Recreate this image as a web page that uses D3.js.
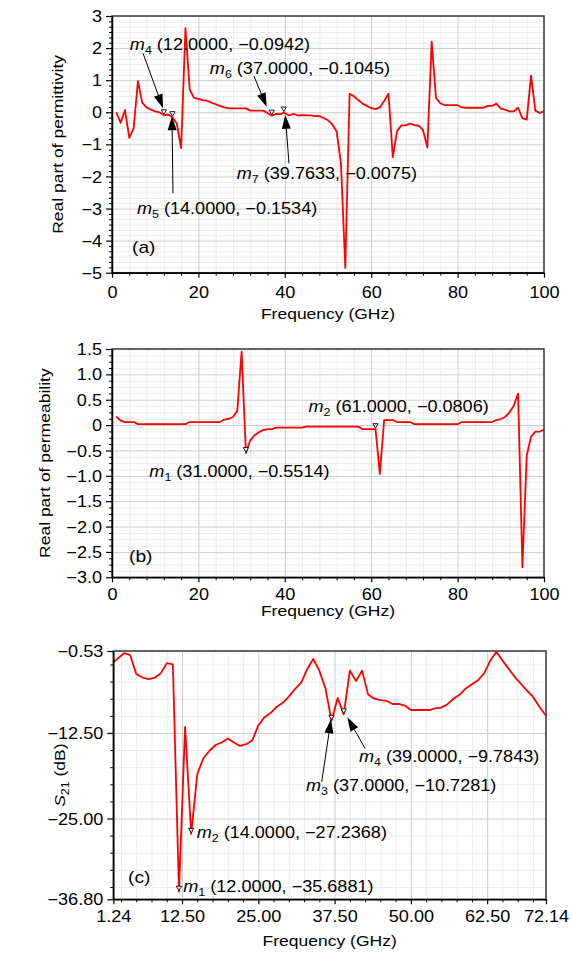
<!DOCTYPE html>
<meta charset="utf-8">
<html>
<head>
  <title>Permittivity / permeability / S21</title>
  <script src="https://d3js.org/d3.v7.min.js"></script>
  <style>
    body{margin:0;background:#fff;}
    text{font-family:"Liberation Sans",Arial,sans-serif;fill:#000;}
  </style>
</head>
<body>
<svg id="fig" width="572" height="953"></svg>
<script>
// ---- panel (a): real part of permittivity
var freqA=[1,2,3,4,5,6,7,8,9,10,11,12,13,14,15,16,17,18,19,20,
  21,22,23,24,25,26,27,28,29,30,31,32,33,34,35,36,37,38,39,39.7633,41,42,43,44,45,46,47,48,49,50,
  51,52,53,54,55,56,57,58,59,60,61,62,63,64,65,66,67,68,69,70,71,72,73,74,75,76,77,78,79,80,
  81,82,83,84,85,86,87,88,89,90,91,92,93,94,95,96,97,98,99,100];
var epsA=[0.0,-0.33,0.07,-0.8,-0.5,0.97,0.3,0.15,0.08,0.03,0.0,-0.0942,-0.07,-0.1534,-0.35,-1.12,2.62,0.7,0.45,0.42,
  0.38,0.36,0.3,0.25,0.2,0.15,0.12,0.12,0.12,0.12,0.12,0.05,0.05,0.05,0.05,-0.02,-0.1045,-0.05,-0.06,-0.0075,-0.1,-0.05,-0.1,-0.09,-0.1,-0.1,-0.12,-0.12,-0.18,-0.25,
  -0.38,-0.6,-1.6,-4.85,0.58,0.5,0.38,0.27,0.2,0.13,0.1,0.15,0.35,0.58,-1.4,-0.58,-0.41,-0.41,-0.35,-0.4,-0.42,-0.56,-1.1,2.2,0.45,0.28,0.22,0.22,0.22,0.22,
  0.15,0.14,0.14,0.14,0.14,0.14,0.2,0.2,0.27,0.11,0.08,0.03,0.03,0.14,-0.18,-0.23,1.14,0.05,-0.02,0.03];
var markersA=[{id:"4",x:12,y:-0.0942},{id:"5",x:14,y:-0.1534},{id:"6",x:37,y:-0.1045},{id:"7",x:39.7633,y:-0.0075}];
var xTicksA=[0,20,40,60,80,100];
var yTicksA=[3,2,1,0,-1,-2,-3,-4,-5];

// ---- panel (b): real part of permeability
var freqB=[1,2,3,4,5,6,7,8,9,10,11,12,13,14,15,16,17,18,19,20,
  21,22,23,24,25,26,27,28,29,30,31,32,33,34,35,36,37,38,39,40,41,42,43,44,45,46,47,48,49,50,
  51,52,53,54,55,56,57,58,59,60,61,62,63,64,65,66,67,68,69,70,71,72,73,74,75,76,77,78,79,80,
  81,82,83,84,85,86,87,88,89,90,91,92,93,94,95,96,97,98,99,100];
var muB=[0.17,0.09,0.06,0.06,0.06,0.02,0.02,0.02,0.02,0.02,0.02,0.02,0.02,0.02,0.02,0.02,0.02,0.06,0.06,0.06,
  0.06,0.06,0.06,0.06,0.06,0.11,0.12,0.16,0.28,1.45,-0.5514,-0.3,-0.2,-0.14,-0.1,-0.08,-0.08,-0.05,-0.05,-0.05,-0.05,-0.05,-0.05,-0.05,-0.03,-0.03,-0.03,-0.03,-0.03,-0.03,
  -0.03,-0.03,-0.03,-0.03,-0.03,-0.03,-0.03,-0.08,-0.08,-0.08,-0.0806,-0.96,0.1,0.1,0.1,0.06,0.06,0.06,0.06,0.02,0.02,0.02,0.02,0.02,0.02,0.02,0.02,0.02,0.02,0.02,
  0.06,0.06,0.06,0.06,0.06,0.06,0.06,0.06,0.1,0.12,0.16,0.25,0.38,0.62,-2.8,-0.6,-0.23,-0.13,-0.13,-0.09];
var markersB=[{id:"1",x:31,y:-0.5514},{id:"2",x:61,y:-0.0806}];
var xTicksB=[0,20,40,60,80,100];
var yTicksB=[1.5,1.0,0.5,0,-0.5,-1.0,-1.5,-2.0,-2.5,-3.0];

// ---- panel (c): S21 (dB)
var freqC=[1.24,2,3,4,5,6,7,8,9,10,11,12,13,14,15,16,17,18,19,20,
  21,22,23,24,25,26,27,28,29,30,31,32,33,34,35,36,37,38,39,40,41,42,43,44,45,46,47,48,49,50,
  51,52,53,54,55,56,57,58,59,60,61,62,63,64,65,66,67,68,69,70,71,72.14];
var s21C=[-2.2,-1.6,-0.85,-1.1,-3.9,-4.4,-4.65,-4.45,-3.8,-2.3,-2.5,-35.6881,-11.6,-27.2368,-18.5,-16.2,-15.1,-14.26,-13.9,-13.3,
  -13.9,-14.4,-14.15,-13.6,-11.4,-10.2,-9.6,-8.7,-8.1,-7.2,-6.1,-5.2,-3.2,-1.7,-3.4,-6.0,-10.7281,-7.4,-9.7843,-3.4,-4.9,-3.4,-6.9,-7.5,-7.7,-7.8,-8.27,-8.27,-8.5,-9.15,
  -9.15,-9.15,-9.15,-8.9,-8.8,-8.3,-7.5,-6.9,-6.0,-5.4,-4.8,-3.8,-1.95,-0.63,-1.9,-3.1,-4.3,-5.3,-6.3,-7.2,-8.6,-10.0];
var markersC=[{id:"1",x:12,y:-35.6881},{id:"2",x:14,y:-27.2368},{id:"3",x:37,y:-10.7281},{id:"4",x:39,y:-9.7843}];
var xTicksC=[1.24,12.5,25,37.5,50,62.5,72.14];
var yTicksC=[-0.53,-12.5,-25,-36.8];

// ---- layout (pixels)
var SX=1.13; // glyphs in the original are a bit wider than Arial
var svg=d3.select("#fig");
var fmtMinus=function(s){return s.replace(/-/g,"\u2212");};

var panels=[
  {x:freqA,y:epsA,markers:markersA,xTicks:xTicksA,yTicks:yTicksA,
   xDomain:[0,100],yDomain:[-5,3],left:112,right:544,top:16,bottom:272.7,
   xMinor:d3.range(0,101,4).filter(function(v){return v%20!==0;}),
   yMinor:d3.range(-30,19).map(function(i){return i/6;}).filter(function(v){return Math.abs(v-Math.round(v))>1e-6;}),
   xMajorGrid:[20,40,60,80],yMajorGrid:[2,1,0,-1,-2,-3,-4],
   xFmt:function(v){return String(v);},yFmt:function(v){return fmtMinus(String(v));},
   xLabOff:25,xTitleY:319,yTitleX:63,yTitle:"Real part of permittivity",
   tag:"(a)",tagX:132,tagY:253,
   notes:[{lx:-34,ly:-65.5,a:[-20.8,-62,-0.8,-7]},{lx:-35.5,ly:96.6,a:[0.5,76,-0.5,-1]},
          {lx:-62,ly:-41.8,a:[-17.8,-39.3,-5.1,-8.6]},{lx:-47,ly:66.3,a:[5.2,50.8,1.5,2.3]}]},
  {x:freqB,y:muB,markers:markersB,xTicks:xTicksB,yTicks:yTicksB,
   xDomain:[0,100],yDomain:[-3,1.5],left:112,right:544,top:349,bottom:577.3,
   xMinor:d3.range(0,101,4).filter(function(v){return v%20!==0;}),
   yMinor:d3.range(-24,13).map(function(i){return i/8;}).filter(function(v){return Math.abs(v*2-Math.round(v*2))>1e-6;}),
   xMajorGrid:[20,40,60,80],yMajorGrid:[1,0.5,0,-0.5,-1,-1.5,-2,-2.5],
   xFmt:function(v){return String(v);},yFmt:function(v){return v===0?"0":fmtMinus(d3.format(".1f")(v));},
   xLabOff:22.5,xTitleY:616,yTitleX:50,yTitle:"Real part of permeability",
   tag:"(b)",tagX:129,tagY:562,
   notes:[{lx:-96.6,ly:24,a:null},{lx:-67,ly:-17,a:null}]},
  {x:freqC,y:s21C,markers:markersC,xTicks:xTicksC,yTicks:yTicksC,
   xDomain:[1.24,72.14],yDomain:[-36.8,-0.53],left:113.3,right:546,top:651,bottom:899.3,
   xMinor:d3.range(2.5,71,2.5).filter(function(v){return v%12.5!==0;}),
   yMinor:d3.range(-35,-1,2.5).filter(function(v){return v%12.5!==0;}),
   xMajorGrid:[12.5,25,37.5,50,62.5],yMajorGrid:[-12.5,-25],
   xFmt:function(v){return d3.format(".2f")(v);},yFmt:function(v){return fmtMinus(d3.format(".2f")(v));},
   xLabOff:22.5,xTitleY:946,yTitleX:65,yTitle:null,
   tag:"(c)",tagX:128,tagY:883,
   notes:[{lx:4.3,ly:0.3,a:null},{lx:5.5,ly:3.7,a:null},
          {lx:-25.5,ly:70,a:[-9.8,61,-0.5,-1.5]},{lx:15.3,ly:48,a:[21.3,34,3.6,3]}]}
];

function arrow(g,x1,y1,x2,y2){
  var dx=x2-x1,dy=y2-y1,L=Math.sqrt(dx*dx+dy*dy),ux=dx/L,uy=dy/L;
  var hl=14,hw=4.5,bx=x2-ux*hl,by=y2-uy*hl;
  g.append("line").attr("x1",x1).attr("y1",y1).attr("x2",bx).attr("y2",by)
    .attr("stroke","#000").attr("stroke-width",1);
  g.append("path").attr("fill","#000")
    .attr("d","M"+x2+","+y2+"L"+(bx-uy*hw)+","+(by+ux*hw)+"L"+(bx+uy*hw)+","+(by-ux*hw)+"Z");
}

function markerLabel(g,x,y,m,fmt){
  var t=g.append("text").attr("transform","translate("+x+","+y+") scale("+SX+",1)")
    .style("font-size","16px");
  t.append("tspan").text("m").style("font-style","italic");
  t.append("tspan").text(m.id).style("font-size","11px").attr("dy",4);
  t.append("tspan").text(" ("+fmt(m.x)+", "+fmt(m.y)+")").attr("dy",-4);
}

panels.forEach(function(p){
  var g=svg.append("g");
  var x=d3.scaleLinear().domain(p.xDomain).range([p.left,p.right]);
  var y=d3.scaleLinear().domain(p.yDomain).range([p.bottom,p.top]);
  var w=p.right-p.left,h=p.bottom-p.top;

  // grid: minor then major
  function grid(vals,col,vertical){
    var ax=vertical?d3.axisBottom(x).tickValues(vals).tickSize(-h).tickFormat("")
                   :d3.axisLeft(y).tickValues(vals).tickSize(-w).tickFormat("");
    g.append("g").attr("transform",vertical?"translate(0,"+p.bottom+")":"translate("+p.left+",0)")
      .call(ax)
      .call(function(s){s.select(".domain").remove();s.selectAll("line").attr("stroke",col).attr("stroke-width",1);});
  }
  grid(p.xMinor,"#ececec",true);
  grid(p.yMinor,"#ececec",false);
  grid(p.xMajorGrid,"#cdcdcd",true);
  grid(p.yMajorGrid,"#cdcdcd",false);

  // frame
  g.append("rect").attr("x",p.left).attr("y",p.top).attr("width",w).attr("height",h)
    .attr("fill","none").attr("stroke","#333").attr("stroke-width",1.5);

  // data line
  var pts=p.x.map(function(v,i){return [v,p.y[i]];});
  g.append("path").datum(pts)
    .attr("d",d3.line().x(function(d){return x(d[0]);}).y(function(d){return y(d[1]);}))
    .attr("fill","none").attr("stroke","#ff0000").attr("stroke-width",1.8).attr("stroke-linejoin","round");

  // axes: minor ticks
  g.append("g").attr("transform","translate("+p.left+",0)")
    .call(d3.axisLeft(y).tickValues(p.yMinor).tickSize(3).tickFormat(""))
    .call(function(s){s.select(".domain").remove();s.selectAll("line").attr("stroke","#000");});
  g.append("g").attr("transform","translate(0,"+p.bottom+")")
    .call(d3.axisBottom(x).tickValues(p.xMinor).tickSize(3).tickFormat(""))
    .call(function(s){s.select(".domain").remove();s.selectAll("line").attr("stroke","#000");});

  // major ticks with labels
  var ya=g.append("g").attr("transform","translate("+p.left+",0)")
    .call(d3.axisLeft(y).tickValues(p.yTicks).tickSize(6).tickSizeOuter(0).tickFormat(p.yFmt));
  ya.select(".domain").attr("stroke","#000").attr("stroke-width",1.5);
  ya.selectAll(".tick line").attr("stroke","#000").attr("stroke-width",1.2);
  ya.selectAll(".tick text").attr("x",null).attr("dy","0.35em")
    .attr("transform","translate(-10,0) scale("+SX+",1)")
    .style("font-size","16px").attr("font-family",null).attr("fill","#000");

  var xa=g.append("g").attr("transform","translate(0,"+p.bottom+")")
    .call(d3.axisBottom(x).tickValues(p.xTicks).tickSize(5).tickSizeOuter(0).tickFormat(p.xFmt));
  xa.select(".domain").attr("stroke","#000").attr("stroke-width",1.5);
  xa.selectAll(".tick line").attr("stroke","#000").attr("stroke-width",1.2);
  xa.selectAll(".tick text").attr("y",null).attr("dy",null)
    .attr("transform","translate(0,"+p.xLabOff+") scale("+SX+",1)")
    .style("font-size","16px").attr("font-family",null).attr("fill","#000");
  ya.attr("font-family",null);xa.attr("font-family",null);

  // axis titles
  g.append("text").attr("text-anchor","middle")
    .attr("transform","translate("+((p.left+p.right)/2)+","+p.xTitleY+") scale("+SX+",1)")
    .style("font-size","15.5px").text("Frequency (GHz)");
  var yt=g.append("text").attr("text-anchor","middle")
    .attr("transform","translate("+p.yTitleX+","+((p.top+p.bottom)/2)+") rotate(-90) scale("+SX+",1)")
    .style("font-size","15.5px");
  if(p.yTitle){yt.text(p.yTitle);}
  else{
    yt.append("tspan").text("S").style("font-style","italic");
    yt.append("tspan").text("21").style("font-size","11px").attr("dy",4);
    yt.append("tspan").text(" (dB)").attr("dy",-4);
  }

  // panel tag
  g.append("text").attr("transform","translate("+p.tagX+","+p.tagY+") scale("+SX+",1)")
    .style("font-size","17px").text(p.tag);

  // markers + annotations
  var fmt=function(v){return fmtMinus(d3.format(".4f")(v));};
  p.markers.forEach(function(m,i){
    var px=x(m.x),py=y(m.y),n=p.notes[i];
    g.append("path").attr("fill","#fff").attr("stroke","#000").attr("stroke-width",0.9)
      .attr("d","M"+(px-2.6)+","+(py-5.5)+"L"+(px+2.6)+","+(py-5.5)+"L"+px+","+(py-1)+"Z");
    if(n.a){arrow(g,px+n.a[0],py+n.a[1],px+n.a[2],py+n.a[3]);}
    markerLabel(g,px+n.lx,py+n.ly,m,fmt);
  });
});
</script>
</body>
</html>
